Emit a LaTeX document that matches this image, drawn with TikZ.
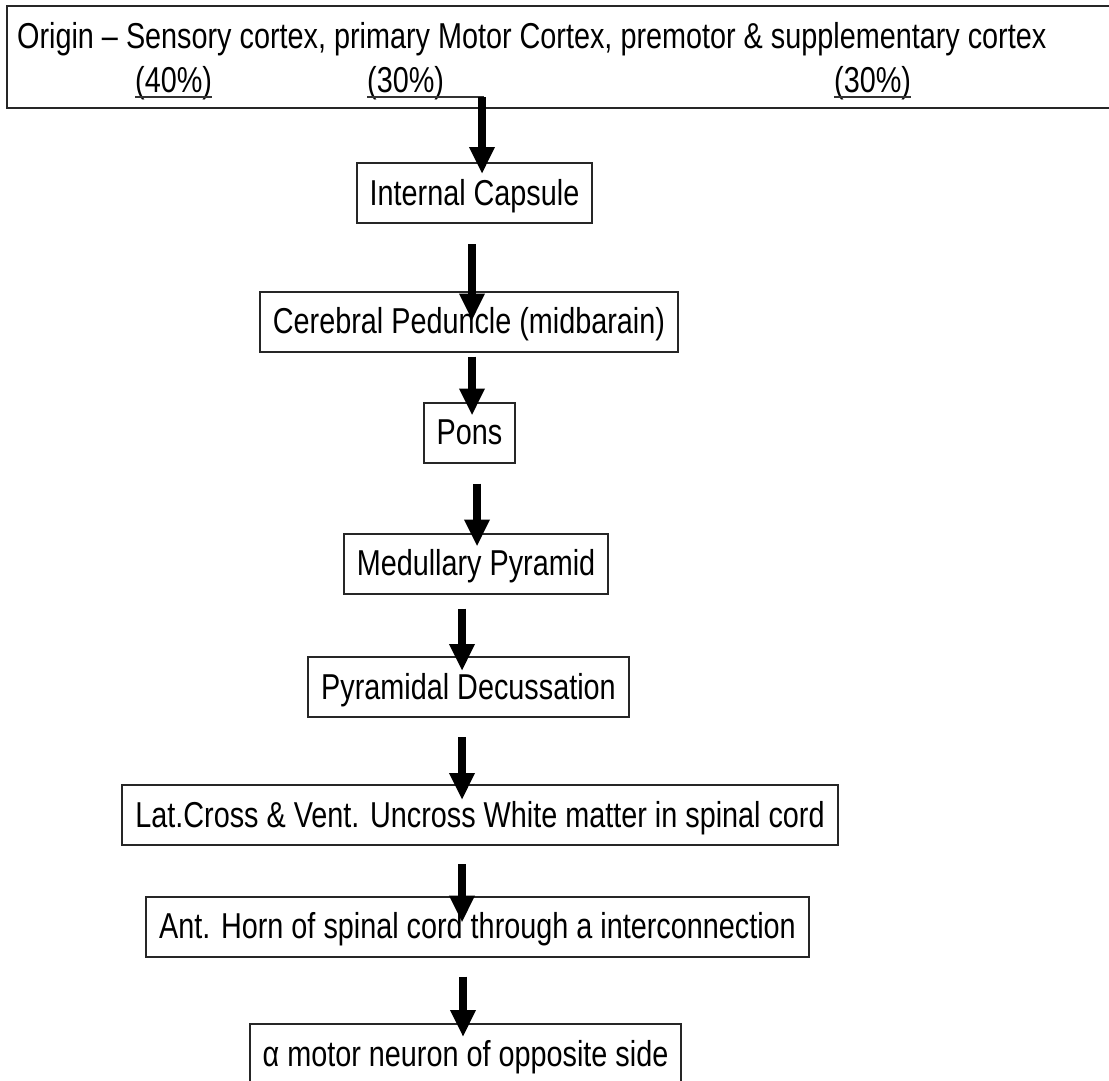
\documentclass[tikz,border=0pt]{standalone}
\usepackage{fontspec}
\setmainfont[FakeStretch=0.8]{Liberation Sans}
\usepackage{tikz}
\usetikzlibrary{positioning,arrows.meta}

\begin{document}
\begin{tikzpicture}[
x=1pt, y=-1pt,
box/.style={draw=black!85, line width=2pt, minimum height=60pt, inner xsep=13pt, inner ysep=3pt, text height=30pt, text depth=6pt, font=\fontsize{36}{40}\selectfont},
frame/.style={draw=black!85, line width=2pt, anchor=north west, minimum width=1110pt, minimum height=102pt, inner sep=0pt},
srctext/.style={inner sep=0pt, anchor=base west, font=\fontsize{36}{40}\selectfont},
uline/.style={line width=1.6pt, black!80},
arrow/.style={-{Triangle[length=27pt,width=24pt]}, line width=8.5pt, black}
]
\useasboundingbox (0,0) rectangle (1109,1080);
\clip (0,0) rectangle (1109,1080);
% origin frame and its labels
\node[frame] (origin) at (6,5) {};
\node[srctext] (srcline) at (17,48) {Origin – Sensory cortex, primary Motor Cortex, premotor \& supplementary cortex};
\node[srctext] (p40) at (135,92) {(40\%)};
\node[srctext] (p30a) at (367,92) {(30\%)};
\node[srctext] (p30b) at (834,92) {(30\%)};
\coordinate (tap) at (482,97);
\draw[uline] ([yshift=-5pt]p40.base west) -- ([yshift=-5pt]p40.base east);
\draw[uline] ([yshift=-5pt]p30b.base west) -- ([yshift=-5pt]p30b.base east);
\draw[uline] ([yshift=-5pt]p30a.base west) -- ([xshift=2pt]tap);
% pathway boxes
\node[box] (capsule) at (474.5,193) {Internal Capsule};
\node[box] (peduncle) at (469,321.5) {Cerebral Peduncle (midbarain)};
\node[box] (pons) at (469.5,432.5) {Pons};
\node[box] (pyramid) at (476,563.5) {Medullary Pyramid};
\node[box] (decuss) at (468.5,687) {Pyramidal Decussation};
\node[box] (whitematter) at (480,815) {Lat.Cross \& Vent. Uncross White matter in spinal cord};
\node[box] (anthorn) at (477.5,926.5) {Ant. Horn of spinal cord through a interconnection};
\node[box] (alpha) at (465.5,1054) {α motor neuron of opposite side};
% arrows
\draw[arrow] (tap) -- ([xshift=7.5pt,yshift=-12pt]capsule.north);
\draw[arrow] ([xshift=-2.5pt,yshift=-20pt]capsule.south) -- ([xshift=3pt,yshift=-30pt]peduncle.north);
\draw[arrow] ([xshift=3pt,yshift=-4pt]peduncle.south) -- ([xshift=2.5pt,yshift=-14pt]pons.north);
\draw[arrow] ([xshift=7.5pt,yshift=-20pt]pons.south) -- ([xshift=1pt,yshift=-14pt]pyramid.north);
\draw[arrow] ([xshift=-14pt,yshift=-14pt]pyramid.south) -- ([xshift=-6.5pt,yshift=-15pt]decuss.north);
\draw[arrow] ([xshift=-6.5pt,yshift=-19pt]decuss.south) -- ([xshift=-18pt,yshift=-16pt]whitematter.north);
\draw[arrow] ([xshift=-18pt,yshift=-18pt]whitematter.south) -- ([xshift=-15.5pt,yshift=-27pt]anthorn.north);
\draw[arrow] ([xshift=-14.5pt,yshift=-19pt]anthorn.south) -- ([xshift=-2.5pt,yshift=-14pt]alpha.north);
\end{tikzpicture}
\end{document}
